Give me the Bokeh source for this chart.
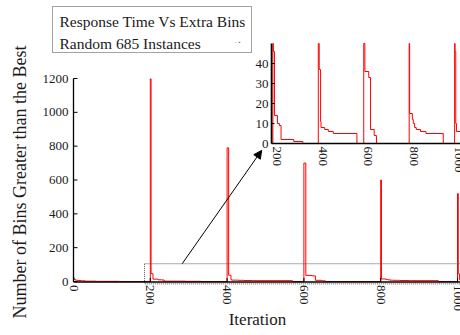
import math
from bokeh.plotting import figure
from bokeh.models import Label, Arrow, NormalHead, Range1d
from bokeh.embed import file_html
from bokeh.resources import INLINE

# ---------------- data ----------------
iterations = [0, 2, 5, 10, 20, 31, 60, 120, 200, 202, 207, 220, 229, 236, 292, 332,
              400, 404, 410, 412, 428, 444, 466, 570,
              600, 605, 622, 630, 646, 656,
              800, 802, 814, 818, 824, 831, 850, 874, 950,
              1000, 1002, 1005, 1008, 1030]
bins_over_best = [22, 12, 8, 6, 4, 2, 1, 0, 1198, 46, 14, 10, 9, 2, 1, 0,
                  790, 37, 11, 8, 7, 6, 5, 0,
                  700, 36, 33, 7, 4, 0,
                  600, 15, 12, 10, 8, 7, 6, 5, 0,
                  520, 46, 10, 6, 6]

main_x_ticks = [0, 200, 400, 600, 800, 1000]
main_y_ticks = [0, 200, 400, 600, 800, 1000, 1200]
inset_x_ticks = [200, 400, 600, 800, 1000]
inset_y_ticks = [0, 10, 20, 30, 40]

title_text = "Response Time Vs Extra Bins"
series_name = "Random 685 Instances"
x_label = "Iteration"
y_label = "Number of Bins Greater than the Best"

# ---------------- layout constants (pixels) ----------------
W, H = 460, 335
FONT = "Liberation Serif"
TXT = "#1a1a1a"

# main axes: data (0, 0) sits at pixel (73, 281); scales in px per unit
M_X0, M_Y0, M_SX, M_SY = 73, 281, 0.384, 203 / 1200
M_XMAX, M_YMAX, M_AXIS_Y = 1010, 1200, -3
# inset axes: data (194, 0) sits at pixel (271, 143)
I_XMIN, I_XMAX, I_YMAX = 194, 1026, 50
I_X0, I_Y0, I_SX, I_SY = 271, 143, 0.2272, 2.0
# zoom window and arrow (main data units)
zoom_left, zoom_right, zoom_bottom, zoom_top = 185, 1012, -14, 105
arrow_x0, arrow_y0, arrow_x1, arrow_y1 = 283, 105, 490, 775

# one figure whose frame is the whole canvas; every layer has its own ranges
p = figure(width=W, height=H,
           x_range=Range1d(-M_X0 / M_SX, (W - M_X0) / M_SX),
           y_range=Range1d(-(H - M_Y0) / M_SY, M_Y0 / M_SY),
           x_axis_type=None, y_axis_type=None,
           output_backend="svg", toolbar_location=None, min_border=0)
p.extra_x_ranges = {"ix": Range1d(I_XMIN - I_X0 / I_SX, I_XMIN + (W - I_X0) / I_SX),
                    "px": Range1d(0, W)}
p.extra_y_ranges = {"iy": Range1d(-(H - I_Y0) / I_SY, I_Y0 / I_SY),
                    "py": Range1d(0, H)}
p.outline_line_color = None
p.xgrid.visible = False
p.ygrid.visible = False
p.background_fill_color = "white"
p.border_fill_color = "white"

# ---------------- main plot ----------------
p.step(iterations, bins_over_best, mode="after", line_color="red", line_width=1)
p.quad(left=[zoom_left], right=[zoom_right], bottom=[zoom_bottom], top=[zoom_top],
       fill_color=None, line_color="#555555", line_dash="1 1", line_width=1)
p.add_layout(Arrow(end=NormalHead(size=8, fill_color="black", line_color="black"),
                   x_start=arrow_x0, y_start=arrow_y0, x_end=arrow_x1, y_end=arrow_y1,
                   line_color="black", line_width=1))

# axis lines
p.segment(x0=[0, 0], y0=[M_AXIS_Y, M_AXIS_Y], x1=[0, M_XMAX], y1=[M_YMAX, M_AXIS_Y],
          line_color="black", line_width=1.3)
# inward ticks
p.segment(x0=[0] * len(main_y_ticks), y0=main_y_ticks,
          x1=[4 / M_SX] * len(main_y_ticks), y1=main_y_ticks, line_color="black", line_width=1)
p.segment(x0=main_x_ticks, y0=[M_AXIS_Y] * len(main_x_ticks),
          x1=main_x_ticks, y1=[M_AXIS_Y + 4 / M_SY] * len(main_x_ticks),
          line_color="black", line_width=1)
# tick labels
p.text(x=[-5 / M_SX] * len(main_y_ticks), y=main_y_ticks,
       text=[str(v) for v in main_y_ticks], text_align="right", text_baseline="middle",
       text_font={"value": FONT}, text_font_size="13px", text_color=TXT)
p.text(x=main_x_ticks, y=[M_AXIS_Y - 3 / M_SY] * len(main_x_ticks),
       text=[str(v) for v in main_x_ticks], angle=-math.pi / 2,
       text_align="left", text_baseline="middle",
       text_font={"value": FONT}, text_font_size="13px", text_color=TXT)

# ---------------- inset ----------------
k = max(i for i, v in enumerate(iterations) if v <= I_XMIN)
inset_x = [I_XMIN] + [min(v, I_XMAX) for v in iterations[k + 1:]]
inset_y = [min(v, I_YMAX) for v in bins_over_best[k:]]
p.quad(left=[I_XMIN], right=[I_XMAX], bottom=[0], top=[I_YMAX], fill_color="white",
       line_color=None, x_range_name="ix", y_range_name="iy")
p.step(inset_x, inset_y, mode="after", line_color="red", line_width=1,
       x_range_name="ix", y_range_name="iy")
p.segment(x0=[I_XMIN, I_XMIN], y0=[0, 0], x1=[I_XMIN, I_XMAX], y1=[I_YMAX, 0],
          line_color="black", line_width=1.6, x_range_name="ix", y_range_name="iy")
p.segment(x0=[I_XMIN] * len(inset_y_ticks), y0=inset_y_ticks,
          x1=[I_XMIN + 3 / I_SX] * len(inset_y_ticks), y1=inset_y_ticks,
          line_color="black", line_width=1, x_range_name="ix", y_range_name="iy")
p.text(x=[I_XMIN - 3 / I_SX] * len(inset_y_ticks), y=inset_y_ticks,
       text=[str(v) for v in inset_y_ticks], text_align="right", text_baseline="middle",
       text_font={"value": FONT}, text_font_size="13px", text_color=TXT,
       x_range_name="ix", y_range_name="iy")
p.text(x=[v + 4.5 / I_SX for v in inset_x_ticks], y=[-3 / I_SY] * len(inset_x_ticks),
       text=[str(v) for v in inset_x_ticks], angle=-math.pi / 2,
       text_align="left", text_baseline="middle",
       text_font={"value": FONT}, text_font_size="13px", text_color=TXT,
       x_range_name="ix", y_range_name="iy")

# ---------------- legend box and axis titles (pixel coordinates, y up) ----------------
p.quad(left=[52], right=[251], bottom=[H - 52], top=[H - 6], fill_color="white",
       line_color="#444444", line_dash="1 1", line_width=1,
       x_range_name="px", y_range_name="py")
for txt, ty in ((title_text, H - 21), (series_name, H - 42.5)):
    p.add_layout(Label(x=59, y=ty, text=txt, x_range_name="px", y_range_name="py",
                       text_align="left", text_baseline="middle",
                       text_font=FONT, text_font_size="15.5px", text_color=TXT))
p.add_layout(Label(x=237, y=H - 42, text="= \u25aa", x_range_name="px", y_range_name="py",
                   text_align="center", text_baseline="middle",
                   text_font=FONT, text_font_size="5px", text_color="#666666"))
p.add_layout(Label(x=19, y=H - 181.5, text=y_label, angle=math.pi / 2,
                   x_range_name="px", y_range_name="py",
                   text_align="center", text_baseline="middle",
                   text_font=FONT, text_font_size="18px", text_color=TXT))
p.add_layout(Label(x=257, y=H - 319, text=x_label, x_range_name="px", y_range_name="py",
                   text_align="center", text_baseline="middle",
                   text_font=FONT, text_font_size="17px", text_color=TXT))

open("out.html", "w").write(file_html(p, INLINE))
